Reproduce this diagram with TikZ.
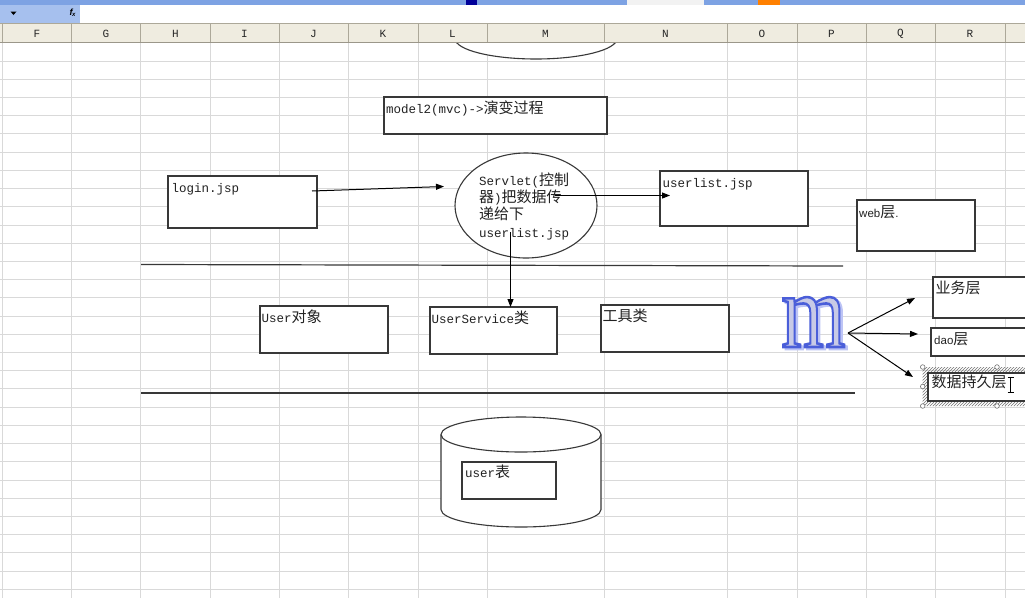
\documentclass[tikz,border=0pt]{standalone}
\usepackage{fontspec}
\usepackage{graphicx}
\setmonofont{Liberation Mono}
\newfontfamily\cjk[Scale=1.2]{Noto Sans CJK SC}
\newfontfamily\sans{Liberation Sans}
\newfontfamily\serifmb[FakeBold=2.4]{Liberation Serif}
\usetikzlibrary{arrows.meta,patterns,shapes.geometric}
\definecolor{gridc}{HTML}{D9D9D9}
\definecolor{hdrc}{HTML}{EFECE0}
\definecolor{hdrline}{HTML}{ACA899}
\definecolor{shapec}{HTML}{383838}
\definecolor{txtc}{HTML}{222222}
\definecolor{namebl}{HTML}{A6C0EE}
\definecolor{topbl}{HTML}{7DA2E3}
\definecolor{mfill}{HTML}{C8CAE6}
\definecolor{mshadow}{HTML}{BCC4F4}
\newcommand{\mglyph}[1]{\scalebox{0.78}[1]{\fontsize{106}{106}\selectfont\serifmb\special{pdf:code #1 RG}m}}
\begin{document}
\begin{tikzpicture}[x=1pt,y=-1pt,
  gridln/.style={draw=gridc, line width=1pt},
  box/.style={draw=shapec, line width=1.1pt, fill=white, inner sep=0pt, outer sep=0pt},
  txt/.style={anchor=base west, inner sep=0pt, text=txtc, font=\fontsize{12.5}{17}\selectfont\ttfamily},
  stxt/.style={anchor=base west, inner sep=0pt, text=txtc, font=\fontsize{11.5}{14}\selectfont\sans},
  arr/.style={draw=black, line width=1pt, -{Triangle[length=8pt,width=6pt]}},
  sep/.style={draw=shapec, line width=1.2pt},
  colhd/.style={inner sep=0pt, text=black!85, font=\fontsize{11}{11}\selectfont\ttfamily},
  mtxt/.style={anchor=base, inner sep=0pt}]
\useasboundingbox (0,0) rectangle (1025,598);
\clip (0,0) rectangle (1025,598);
\fill[white] (0,0) rectangle (1025,598);
% grid
\foreach \x in {2.5,71,140.7,210,279,348,418,487,604,727,797,866,935,1005}
  \draw[gridln] (\x,43) -- (\x,598);
\foreach \k [evaluate=\k as \yy using 42.8+18.22*\k] in {1,...,30}
  \draw[gridln] (0,\yy) -- (1025,\yy);
% top partial ellipse
\draw[box] (536,38.5) ellipse [x radius=81pt, y radius=20.5pt];
% title strip and formula bar
\fill[topbl] (0,0) rectangle (1025,4.5);
\fill[black!5] (627,0) rectangle (704,4.5);
\fill[blue!60!black] (466,0) rectangle (477,4.5);
\fill[orange] (758,0) rectangle (780,4.5);
\fill[white] (0,4.5) rectangle (1025,22.7);
\fill[namebl] (0,5) rectangle (80,22.5);
\fill[black] (10.5,11.5) -- (16.5,11.5) -- (13.5,15) -- cycle;
\node[inner sep=0pt, font=\fontsize{9}{9}\selectfont\sans\itshape\bfseries] (fx) at (72.5,13) {f\kern-0.5pt\raisebox{-1pt}{\fontsize{6}{6}\selectfont x}};
% column header
\fill[hdrc] (0,22.7) rectangle (1025,42.7);
\draw[hdrline, line width=0.8pt] (0,22.9) -- (1025,22.9);
\draw[hdrline!90!black, line width=1.5pt] (0,42.4) -- (1025,42.4);
\foreach \x in {2.5,71,140.7,210,279,348,418,487,604,727,797,866,935,1005}
  \draw[hdrline, line width=0.9pt] (\x,24) -- (\x,42);
\foreach \c/\x in {F/37,G/106,H/175.3,I/244.5,J/313.5,K/383,L/452.5,M/545.5,N/665.5,O/762,P/831.5,Q/900.5,R/970}
  \node[colhd] (col\c) at (\x,33.5) {\c};
% boxes
\node[box, minimum width=223pt, minimum height=37pt] (model) at (495.5,115.5) {};
\node[txt] (tmodel) at (386,113) {model2(mvc)->{\cjk 演变过程}};
\node[box, minimum width=149pt, minimum height=52pt] (login) at (242.5,202) {};
\node[txt] (tlogin) at (171.5,192) {login.jsp};
\node[box, minimum width=148pt, minimum height=55pt] (userlist) at (734,198.5) {};
\node[txt] (tuserlist) at (662.5,187) {userlist.jsp};
\node[box, minimum width=118pt, minimum height=51pt] (web) at (916,225.5) {};
\node[stxt] (tweb) at (859,217) {web{\cjk\fontsize{12.5}{14}\selectfont 层}.};
% servlet ellipse
\node[box, ellipse, minimum width=142pt, minimum height=105pt] (servlet) at (526,205.5) {};
\node[txt] (s1) at (479,185) {Servlet({\cjk 控制}};
\node[txt] (s2) at (479,202) {{\cjk 器}){\cjk 把数据传}};
\node[txt] (s3) at (479,219.5) {{\cjk 递给下}};
\node[txt] (s4) at (479,237) {userlist.jsp};
% separators
\coordinate (l1a) at (141,264.5); \coordinate (l1b) at (843,266);
\draw[sep] (l1a) -- (l1b);
\coordinate (l2a) at (141,393); \coordinate (l2b) at (855,393);
\draw[sep] (l2a) -- (l2b);
% middle row
\node[box, minimum width=128pt, minimum height=47pt] (userobj) at (324,329.5) {};
\node[txt] (tuserobj) at (261.5,322) {User{\cjk 对象}};
\node[box, minimum width=127pt, minimum height=47pt] (usersvc) at (493.5,330.5) {};
\node[txt] (tusersvc) at (431.5,323) {UserService{\cjk 类}};
\node[box, minimum width=128pt, minimum height=47pt] (tool) at (665,328.5) {};
\node[txt] (ttool) at (602.5,321.5) {{\cjk 工具类}};
% right boxes
\node[box, minimum width=107pt, minimum height=41pt] (biz) at (986.5,297.5) {};
\node[txt] (tbiz) at (935.5,293) {{\cjk 业务层}};
\node[box, minimum width=109pt, minimum height=28pt] (dao) at (985.5,342) {};
\node[stxt] (tdao) at (934,344) {dao{\cjk\fontsize{12.5}{14}\selectfont 层}};
\fill[pattern=north east lines, pattern color=black!55, even odd rule] (922.7,367) rectangle (1040,406) (928,373) rectangle (1040,401);
\node[box, minimum width=112pt, minimum height=28pt] (persist) at (984,387) {};
\node[txt] (tpersist) at (931.5,387) {{\cjk 数据持久层}};
\foreach \hx/\hy [count=\i] in {922.7/367,922.7/386.5,922.7/406,997/367,997/406}
  \draw[draw=black!55, fill=white, line width=0.6pt] (\hx,\hy) circle [radius=2.3pt];
% text cursor
\draw[black, line width=0.9pt] (1010.5,378) -- (1010.5,392);
\draw[black, line width=0.8pt] (1007.5,377.5) -- (1013.5,377.5) (1007.5,392.5) -- (1013.5,392.5);
% word art m: soft blue shadow, light fill with blue outline
\node[mtxt, text=mshadow] (mshade) at (816,349) {\mglyph{0.74 0.77 0.96}};
\node[mtxt, text=mfill] (mword) at (813.5,347) {\mglyph{0.29 0.37 0.85}};
% cylinder
\draw[draw=shapec, line width=1.1pt, fill=white] (441,434.5) -- (441,509.5)
  arc[start angle=180, end angle=360, x radius=80pt, y radius=17.5pt] -- (601,434.5)
  arc[start angle=0, end angle=180, x radius=80pt, y radius=17.5pt] -- cycle;
\draw[draw=shapec, line width=1.1pt] (441,434.5) arc[start angle=180, end angle=360, x radius=80pt, y radius=17.5pt];
\node[box, minimum width=94pt, minimum height=37pt] (usertbl) at (509,480.5) {};
\node[txt] (tusertbl) at (465,477) {user{\cjk 表}};
% connectors
\coordinate (a1s) at (312,191); \coordinate (a1e) at (444,186.5);
\draw[arr] (a1s) -- (a1e);
\coordinate (a2s) at (555,195.5); \coordinate (a2e) at (670,195.5);
\draw[arr] (a2s) -- (a2e);
\coordinate (a3s) at (510.5,232);
\draw[arr] (a3s) -- (usersvc.north -| a3s);
\coordinate (mo) at (848,333);
\coordinate (t1) at (915,298); \coordinate (t2) at (918,334); \coordinate (t3) at (913,377);
\draw[arr] (mo) -- (t1);
\draw[arr] (mo) -- (t2);
\draw[arr] (mo) -- (t3);
\end{tikzpicture}
\end{document}
